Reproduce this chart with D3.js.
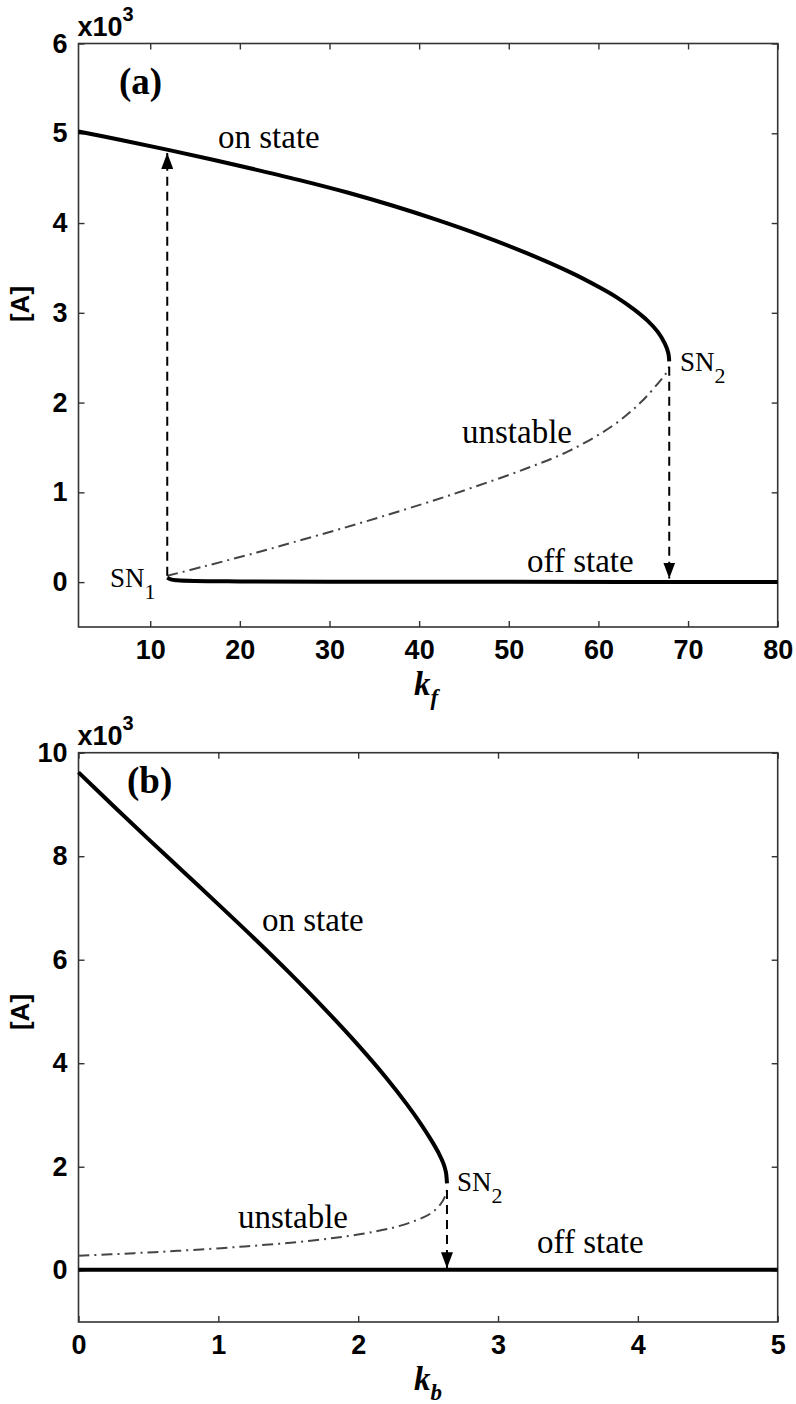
<!DOCTYPE html>
<html>
<head>
<meta charset="utf-8">
<script src="https://cdn.jsdelivr.net/npm/d3@7"></script>
<style>
  body { margin: 0; background: #fff; }
  .tick text { font-family: 'Liberation Sans', Arial, sans-serif; font-weight: bold; font-size: 27px; fill: #000; }
  .tick line { stroke: #333; stroke-width: 1.4; }
  .domain { display: none; }
  .ann { font-family: 'Liberation Serif', 'Times New Roman', serif; fill: #000; }
</style>
</head>
<body>
<svg id="fig" width="796" height="1404"></svg>
<script>
// panel (a): [A] vs k_f  (values in x10^3)
var kfTicks = [10, 20, 30, 40, 50, 60, 70, 80];
var aTicksA = [0, 1, 2, 3, 4, 5, 6];
var onStateA = [[2,5.02],[7,4.92],[12,4.815],[17,4.705],[22,4.59],[27,4.47],[32,4.34],[37,4.195],[42,4.035],[47,3.86],[52,3.665],[57,3.445],[60,3.29],[62,3.175],[64,3.035],[65.5,2.91],[66.6,2.79],[67.4,2.66],[67.8,2.55],[67.9,2.46]];
var unstableA = [[11.9,0.07],[16,0.175],[21.9,0.33],[26,0.445],[31.8,0.61],[36,0.735],[41.8,0.915],[46,1.055],[51.8,1.26],[56.8,1.465],[61.7,1.75],[64.7,2.0],[66.7,2.22],[67.5,2.32],[67.9,2.40]];
var offStateA = [[11.9,0.05],[12.3,0.03],[13,0.02],[15,0.012],[20,0.008],[30,0.005],[50,0.003],[80,0.002]];
var jumpsA = [{k: 11.9, from: 0.07, to: 4.78}, {k: 67.9, from: 2.40, to: 0.04}];

// panel (b): [A] vs k_b
var kbTicks = [0, 1, 2, 3, 4, 5];
var aTicksB = [0, 2, 4, 6, 8, 10];
var onStateB = [[0,9.62],[0.25,8.97],[0.5,8.33],[0.75,7.70],[1.0,7.07],[1.25,6.43],[1.5,5.77],[1.75,5.08],[2.0,4.35],[2.2,3.72],[2.35,3.20],[2.45,2.82],[2.53,2.48],[2.58,2.24],[2.61,2.06],[2.627,1.90],[2.635,1.68]];
var unstableB = [[0,0.28],[0.4,0.33],[0.71,0.375],[1.19,0.46],[1.66,0.57],[2.02,0.70],[2.26,0.83],[2.42,0.97],[2.52,1.10],[2.59,1.28],[2.625,1.45],[2.635,1.55]];
var offStateB = [[0,0.01],[1,0.01],[2,0.01],[3,0.01],[4,0.01],[5,0.01]];
var jumpsB = [{k: 2.635, from: 1.55, to: 0.04}];

var svg = d3.select('#fig');

svg.append('defs').append('marker')
  .attr('id', 'head')
  .attr('viewBox', '0 0 16 12')
  .attr('refX', 16).attr('refY', 6)
  .attr('markerWidth', 16).attr('markerHeight', 12)
  .attr('markerUnits', 'userSpaceOnUse')
  .attr('orient', 'auto')
  .append('path')
  .attr('d', 'M0,0 L16,6 L0,12 Z')
  .attr('fill', '#000');

function panel(opt) {
  var x = d3.scaleLinear().domain(opt.xDomain).range([opt.left, opt.right]);
  var y = d3.scaleLinear().domain(opt.yDomain).range([opt.bottom, opt.top]);
  var g = svg.append('g');

  g.append('g').attr('transform', 'translate(0,' + opt.bottom + ')')
    .call(d3.axisBottom(x).tickValues(opt.xTicks).tickSize(-6).tickPadding(13).tickFormat(d3.format('d')));
  g.append('g').attr('transform', 'translate(0,' + opt.top + ')')
    .call(d3.axisTop(x).tickValues(opt.xTicks).tickSize(-6).tickFormat(''));
  g.append('g').attr('transform', 'translate(' + opt.left + ',0)')
    .call(d3.axisLeft(y).tickValues(opt.yTicks).tickSize(-6).tickPadding(11).tickFormat(d3.format('d')));
  g.append('g').attr('transform', 'translate(' + opt.right + ',0)')
    .call(d3.axisRight(y).tickValues(opt.yTicks).tickSize(-6).tickFormat(''));

  g.append('rect')
    .attr('x', opt.left).attr('y', opt.top)
    .attr('width', opt.right - opt.left).attr('height', opt.bottom - opt.top)
    .attr('fill', 'none').attr('stroke', '#333').attr('stroke-width', 1.6);

  var line = d3.line()
    .x(function(d){ return x(d[0]); })
    .y(function(d){ return y(d[1]); })
    .curve(d3.curveCatmullRom);

  g.append('path').datum(opt.unstable)
    .attr('d', line).attr('fill', 'none')
    .attr('stroke', '#444').attr('stroke-width', 2)
    .attr('stroke-dasharray', '11,5,2,5');
  g.append('path').datum(opt.on)
    .attr('d', line).attr('fill', 'none')
    .attr('stroke', '#000').attr('stroke-width', 4);
  g.append('path').datum(opt.off)
    .attr('d', line).attr('fill', 'none')
    .attr('stroke', '#000').attr('stroke-width', 4);

  g.selectAll('.jump')
    .data(opt.jumps)
    .enter()
    .append('line')
    .attr('class', 'jump')
    .attr('x1', function(d){ return x(d.k); })
    .attr('x2', function(d){ return x(d.k); })
    .attr('y1', function(d){ return y(d.from); })
    .attr('y2', function(d){ return y(d.to); })
    .attr('stroke', '#000').attr('stroke-width', 2)
    .attr('stroke-dasharray', '9,6')
    .attr('marker-end', 'url(#head)');

  // x10^3 exponent label
  var ex = g.append('text')
    .attr('x', opt.left - 1).attr('y', opt.top - 8)
    .style('font-family', "'Liberation Sans', Arial, sans-serif")
    .style('font-weight', 'bold').style('font-size', '27px');
  ex.append('tspan').text('x10');
  ex.append('tspan').attr('dy', -15).style('font-size', '20px').text('3');

  // y label
  g.append('text')
    .attr('transform', 'translate(' + 29 + ',' + opt.yLabelY + ') rotate(-90)')
    .attr('text-anchor', 'middle')
    .style('font-family', "'Liberation Sans', Arial, sans-serif")
    .style('font-weight', 'bold').style('font-size', '26px')
    .text('[A]');

  // x label
  var xl = g.append('text')
    .attr('class', 'ann')
    .attr('x', 414).attr('y', opt.bottom + 68)
    .style('font-weight', 'bold').style('font-style', 'italic').style('font-size', '33px');
  xl.append('tspan').text('k');
  xl.append('tspan').attr('dy', 10).style('font-size', '23px').text(opt.xSub);

  // panel letter
  g.append('text').attr('class', 'ann')
    .attr('x', opt.letterX).attr('y', opt.letterY)
    .style('font-weight', 'bold').style('font-size', '37px')
    .text(opt.letter);

  opt.notes.forEach(function(n){
    g.append('text').attr('class', 'ann')
      .attr('x', n.x).attr('y', n.y)
      .style('font-size', '33px')
      .text(n.t);
  });

  opt.sn.forEach(function(n){
    var t = g.append('text').attr('class', 'ann')
      .attr('x', n.x).attr('y', n.y)
      .style('font-size', '27px');
    t.append('tspan').text('SN');
    t.append('tspan').attr('dy', 12).style('font-size', '22px').text(n.i);
  });
}

panel({
  xDomain: [2, 80], yDomain: [-0.5, 6],
  left: 78.5, right: 777.7, top: 43.5, bottom: 627,
  xTicks: kfTicks, yTicks: aTicksA,
  on: onStateA, unstable: unstableA, off: offStateA, jumps: jumpsA,
  xSub: 'f', yLabelY: 304,
  letter: '(a)', letterX: 119, letterY: 94,
  notes: [{x: 218, y: 148, t: 'on state'}, {x: 462, y: 443, t: 'unstable'}, {x: 527, y: 572, t: 'off state'}],
  sn: [{x: 110, y: 587, i: '1'}, {x: 680, y: 371, i: '2'}]
});

panel({
  xDomain: [0, 5], yDomain: [-1, 10],
  left: 78.5, right: 777.7, top: 752.7, bottom: 1322,
  xTicks: kbTicks, yTicks: aTicksB,
  on: onStateB, unstable: unstableB, off: offStateB, jumps: jumpsB,
  xSub: 'b', yLabelY: 1012,
  letter: '(b)', letterX: 127, letterY: 793,
  notes: [{x: 262, y: 931, t: 'on state'}, {x: 238, y: 1228, t: 'unstable'}, {x: 537, y: 1253, t: 'off state'}],
  sn: [{x: 457, y: 1191, i: '2'}]
});
</script>
</body>
</html>
